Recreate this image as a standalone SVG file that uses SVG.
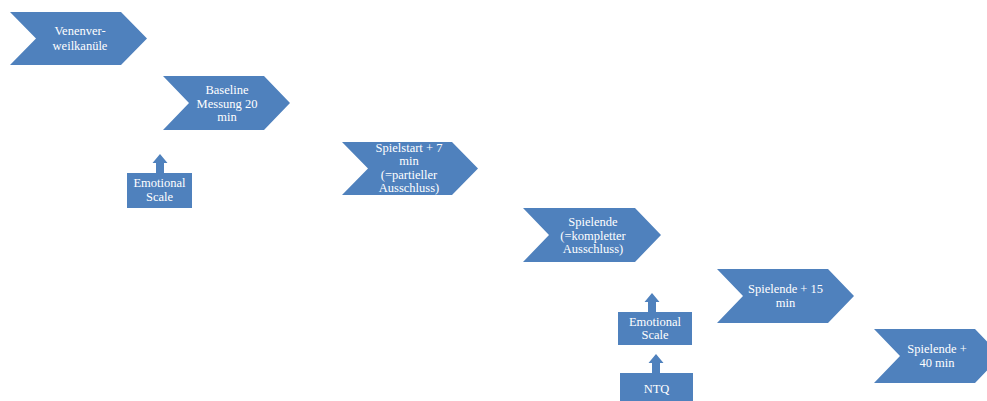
<svg xmlns="http://www.w3.org/2000/svg" width="987" height="401" viewBox="0 0 987 401">
<style>
.s{fill:#4F81BD;}
.t{font-family:'Liberation Serif','Times New Roman','DejaVu Serif',serif;font-size:12.5px;fill:#FFFFFF;text-anchor:middle;}
</style>
<rect width="987" height="401" fill="#FFFFFF"/>
<g id="connectors">
<polygon class="s" points="160,154 167.5,163 164,163 164,174 156,174 156,163 152.5,163"/>
<polygon class="s" points="652,293 659.5,302 656,302 656,313 648,313 648,302 644.5,302"/>
<polygon class="s" points="656,354 663.5,363 660,363 660,374 652,374 652,363 648.5,363"/>
</g>
<g id="n1">
<path class="s" d="M10,12 H121 L147,38.5 L121,65 H10 L36,38.5 Z"/>
<text class="t" x="80" y="35">Venenver-</text>
<text class="t" x="80" y="49.5">weilkanüle</text>
</g>
<g id="n2">
<path class="s" d="M163,76 H264 L290,103 L264,130 H163 L189,103 Z"/>
<text class="t" x="227" y="94">Baseline</text>
<text class="t" x="227" y="107.5">Messung 20</text>
<text class="t" x="227" y="121">min</text>
</g>
<g id="n3">
<path class="s" d="M342,142 H452 L478,168.5 L452,195 H342 L368,168.5 Z"/>
<text class="t" x="409" y="152">Spielstart + 7</text>
<text class="t" x="409" y="165.4">min</text>
<text class="t" x="409" y="178.8">(=partieller</text>
<text class="t" x="409" y="192.2">Ausschluss)</text>
</g>
<g id="n4">
<path class="s" d="M523,208 H635 L661,235 L635,262 H523 L549,235 Z"/>
<text class="t" x="593" y="226">Spielende</text>
<text class="t" x="593" y="239.5">(=kompletter</text>
<text class="t" x="593" y="253">Ausschluss)</text>
</g>
<g id="n5">
<path class="s" d="M717,269 H828 L854,296 L828,323 H717 L743,296 Z"/>
<text class="t" x="785.5" y="293">Spielende + 15</text>
<text class="t" x="785.5" y="306.5">min</text>
</g>
<g id="n6">
<path class="s" d="M874,329 H975 L1001,356 L975,383 H874 L900,356 Z"/>
<text class="t" x="937" y="353">Spielende +</text>
<text class="t" x="937" y="366.5">40 min</text>
</g>
<g id="n7">
<rect class="s" x="127" y="173" width="65" height="35"/>
<text class="t" x="159.5" y="187">Emotional</text>
<text class="t" x="159.5" y="201">Scale</text>
</g>
<g id="n8">
<rect class="s" x="618" y="312" width="74" height="33"/>
<text class="t" x="655" y="325.5">Emotional</text>
<text class="t" x="655" y="339">Scale</text>
</g>
<g id="n9">
<rect class="s" x="620" y="373" width="73" height="30"/>
<text class="t" x="656.5" y="393">NTQ</text>
</g>
</svg>
